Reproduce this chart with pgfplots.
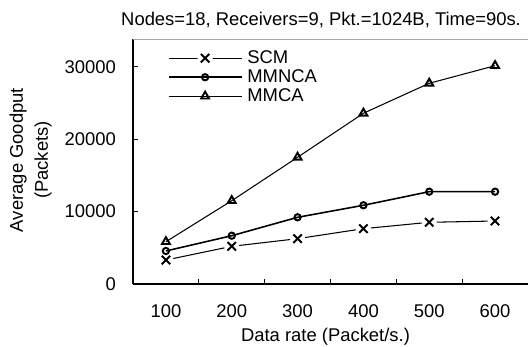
\documentclass[border=0pt]{standalone}
\usepackage{fontspec}
\setmainfont{Liberation Sans}
\usepackage{pgfplots}
\pgfplotsset{compat=1.18}
\pgfdeclareplotmark{xgap}{%
  \begin{pgfscope}
  \pgfsetfillcolor{white}%
  \pgfpathcircle{\pgfpointorigin}{4.3pt}%
  \pgfusepathqfill
  \end{pgfscope}
  \pgfpathmoveto{\pgfqpoint{-\pgfplotmarksize}{-\pgfplotmarksize}}%
  \pgfpathlineto{\pgfqpoint{\pgfplotmarksize}{\pgfplotmarksize}}%
  \pgfpathmoveto{\pgfqpoint{-\pgfplotmarksize}{\pgfplotmarksize}}%
  \pgfpathlineto{\pgfqpoint{\pgfplotmarksize}{-\pgfplotmarksize}}%
  \pgfusepathqstroke
}
\begin{document}
\begin{tikzpicture}
\useasboundingbox (0,0) rectangle (300.96pt,197.79pt);
\begin{axis}[
  at={(75.81pt,35.91pt)}, anchor=south west,
  scale only axis, width=225.15pt, height=139.37pt,
  xmin=0.5, xmax=6.5, ymin=0, ymax=33770,
  axis x line*=bottom, axis y line*=left,
  axis line style={black, line width=0.8pt, -},
  xtick={1,...,6}, xticklabels={100,200,300,400,500,600},
  major x tick style={draw=none},
  minor xtick={1.5,2.5,3.5,4.5,5.5},
  minor tick length=2.85pt, major tick length=2.85pt,
  tick align=inside,
  tick style={black, line width=0.6pt},
  ytick={0,10000,20000,30000},
  scaled y ticks=false,
  /pgf/number format/.cd, 1000 sep={}, assume math mode=true, /pgfplots/.cd,
  tick label style={font=\fontsize{10.5}{12}\selectfont},
  yticklabel style={anchor=east, inner sep=0pt, xshift=-9.6pt},
  xticklabel style={anchor=north, inner sep=0pt, yshift=-11.5pt},
  xlabel={Data rate (Packet/s.)},
  xlabel style={at={(rel axis cs:0.5,0)}, anchor=center, inner sep=0pt, yshift=-30.2pt, xshift=-2.85pt, font=\fontsize{10.5}{12}\selectfont},
  legend style={draw=none, fill=none, at={(axis description cs:0.074,0.97)}, anchor=north west,
    font=\fontsize{10.5}{12}\selectfont,
    nodes={inner sep=0pt, text height=7.3pt, text depth=1.2pt},
    row sep=2.3pt, column sep=2.85pt, cells={anchor=west}},
  legend image code/.code={%
    \draw[mark repeat=2, mark phase=2, #1] plot coordinates {(0pt,0pt) (20.8pt,0pt) (41.6pt,0pt)};},
  clip=false,
]
\addplot[black, line width=0.6pt, mark=xgap, mark size=2.4pt, mark options={line width=1.1pt, solid}]
  coordinates {(1,3310) (2,5200) (3,6260) (4,7640) (5,8520) (6,8700)};
\addlegendentry{SCM}
\addplot[black, line width=0.9pt, mark=o, mark size=1.8pt, mark options={line width=1.1pt, fill=white}]
  coordinates {(1,4560) (2,6670) (3,9210) (4,10870) (5,12750) (6,12750)};
\addlegendentry{MMNCA}
\addplot[black, line width=0.6pt, mark=triangle, mark size=2.6pt, mark options={line width=1.1pt, fill=white}]
  coordinates {(1,5840) (2,11500) (3,17500) (4,23580) (5,27720) (6,30150)};
\addlegendentry{MMCA}
\draw[gray!70, line width=0.8pt] (rel axis cs:0,1) -- (rel axis cs:1,1);
\end{axis}
\node[rotate=90, align=center, inner sep=0pt, font=\fontsize{10.5}{14.25}\selectfont] at (17.4pt,106.6pt) {Average Goodput\\(Packets)};
\node[anchor=base, inner sep=0pt, font=\fontsize{10.5}{12}\selectfont] at (183pt,183pt) {Nodes=18, Receivers=9, Pkt.=1024B, Time=90s.};
\end{tikzpicture}
\end{document}
